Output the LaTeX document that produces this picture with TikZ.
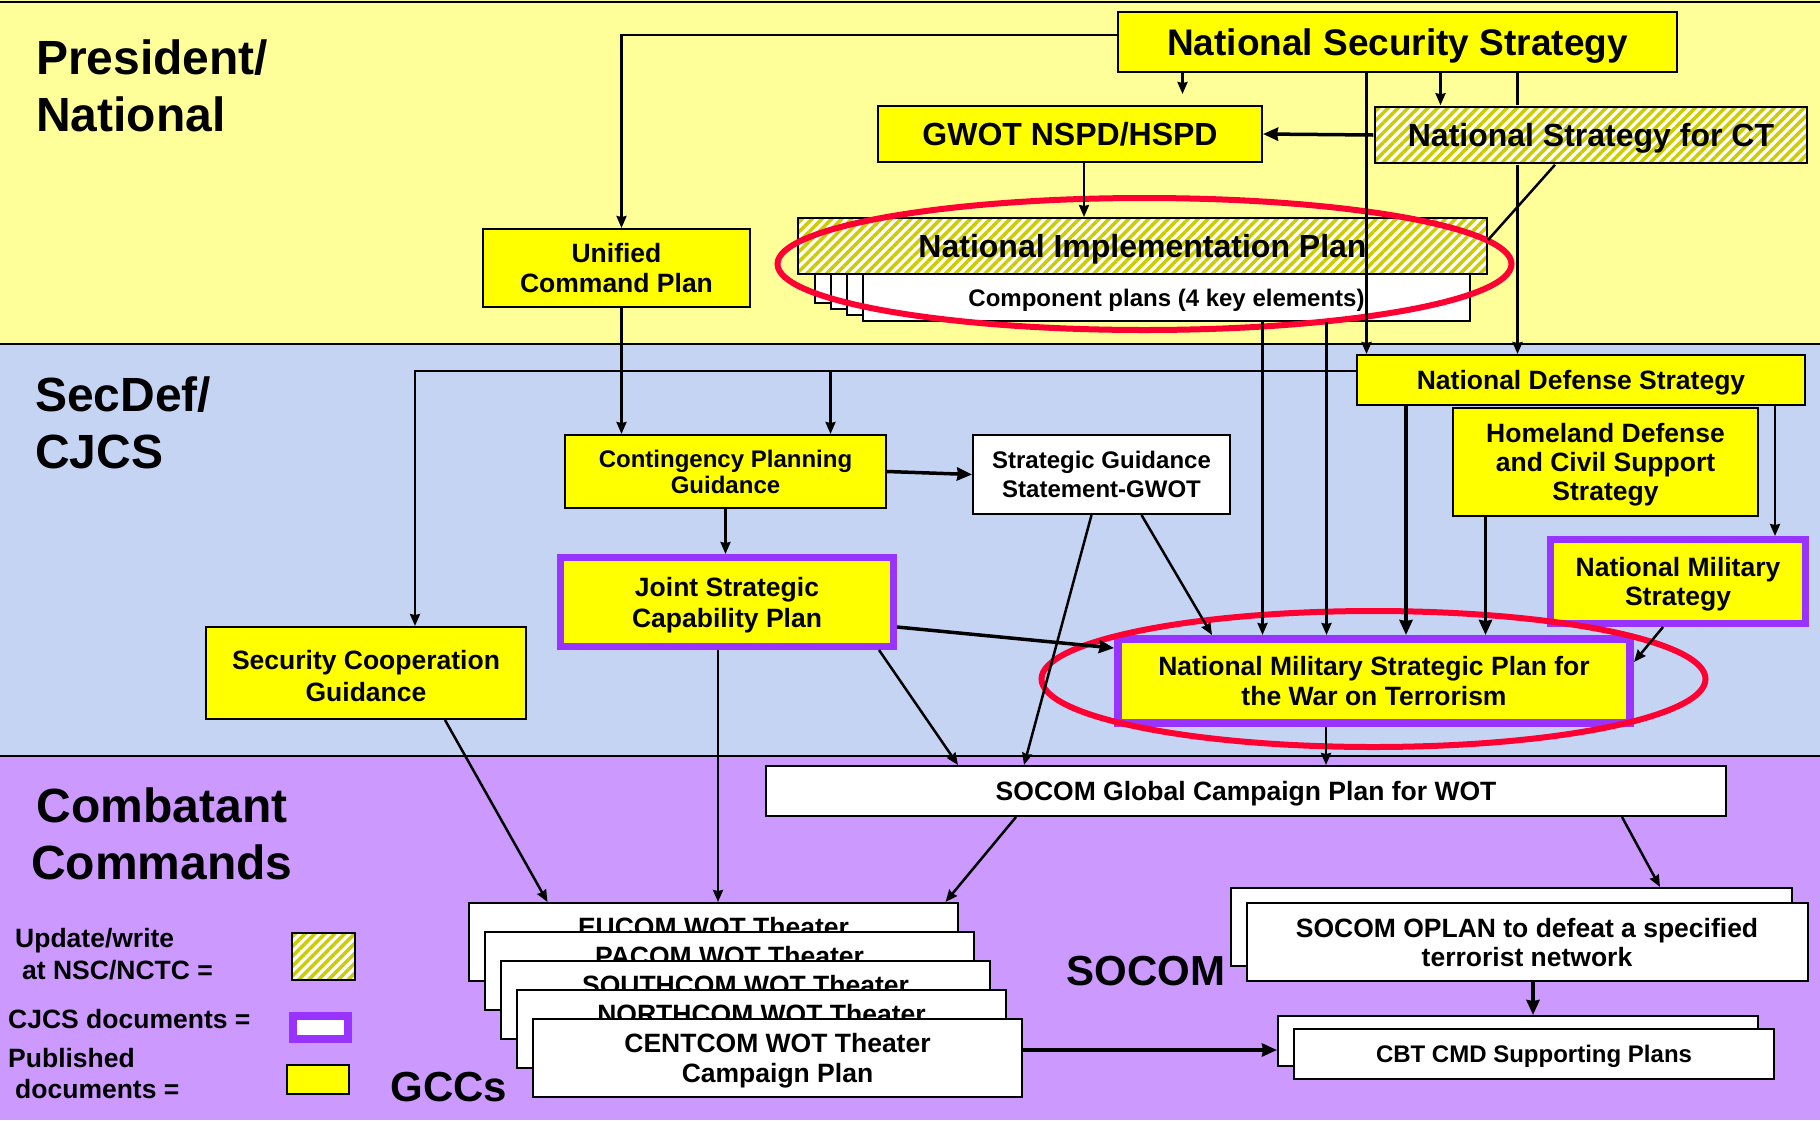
\documentclass[tikz,border=0pt]{standalone}
\usepackage{fontspec}
\setmainfont{Liberation Sans}
\usetikzlibrary{arrows.meta,patterns.meta}
\definecolor{bandyellow}{RGB}{255,255,153}
\definecolor{bandblue}{RGB}{198,212,244}
\definecolor{bandpurple}{RGB}{204,153,255}
\definecolor{docyellow}{RGB}{255,255,0}
\definecolor{cjcspurple}{RGB}{153,51,255}
\definecolor{ringred}{RGB}{255,0,51}
\definecolor{hatchcol}{RGB}{204,204,0}
\newcommand\bs{\rule{0pt}{0.94em}}
\newcommand\es{\rule[-0.22em]{0pt}{0.22em}}
\begin{document}
\begin{tikzpicture}[x=1pt, y=-1pt,
    link/.style = {line width=2.5pt},
    arrow/.style = {link,-{Stealth[length=12pt,width=10pt,inset=1pt]}},
    bigarrow/.style = {line width=3.5pt,-{Stealth[length=15pt,width=13pt,inset=1pt]}},
    doc/.style = {draw, line width=2pt, fill=docyellow, align=center, inner sep=0pt,
                  font=\bfseries\fontsize{26.5}{30}\selectfont},
    plain/.style = {doc, fill=white},
    hatch/.style = {doc, preaction={fill=white},
                    pattern={Lines[angle=45,distance=7pt,line width=3.5pt]}, pattern color=hatchcol},
    cjcs/.style = {doc, draw=cjcspurple, line width=7pt},
    band/.style = {font=\bfseries\fontsize{48}{57}\selectfont, inner sep=0pt},
    key/.style = {font=\bfseries\fontsize{26.5}{32}\selectfont, align=left, inner sep=0pt},
    ring/.style = {draw=ringred, line width=6pt}]

    \useasboundingbox (0,0) rectangle (1820,1120);
    \fill[bandyellow] (0,0) rectangle (1820,344);
    \fill[bandblue] (0,344) rectangle (1820,756);
    \fill[bandpurple] (0,756) rectangle (1820,1120);
    \draw[line width=2pt] (0,2) -- (1820,2);
    \draw[line width=1.5pt] (0,344) -- (1820,344);
    \draw[line width=1.5pt] (0,756) -- (1820,756);

    \node[band, align=left, anchor=west] (presband) at (36,86) {President/\\National};
    \node[band, align=left, anchor=west] (secdefband) at (35,423) {SecDef/\\CJCS};
    \node[band, align=center] (ccband) at (162,834) {Combatant\\Commands};

    % President / National
    \node[doc, minimum width=559pt, minimum height=60pt,
          font=\bfseries\fontsize{37}{42}\selectfont] (nss) at (1397.5,42) {\bs National Security Strategy\es};
    \node[doc, minimum width=384pt, minimum height=56pt,
          font=\bfseries\fontsize{32}{36}\selectfont] (gwot) at (1070,134) {\bs GWOT NSPD/HSPD\es};
    \node[hatch, minimum width=432pt, minimum height=56pt,
          font=\bfseries\fontsize{32}{36}\selectfont] (nsct) at (1591,135) {\bs National Strategy for CT\es};
    \node[plain, minimum width=607pt, minimum height=47pt] (comp3) at (1118.5,279.5) {};
    \node[plain, minimum width=607pt, minimum height=47pt] (comp2) at (1134.5,285.5) {};
    \node[plain, minimum width=607pt, minimum height=47pt] (comp1) at (1150.5,291.5) {};
    \node[plain, minimum width=607pt, minimum height=47pt,
          font=\bfseries\fontsize{24}{28}\selectfont] (comp) at (1166.5,297.5) {\bs Component plans (4 key elements)\es};
    \node[hatch, minimum width=689pt, minimum height=56pt,
          font=\bfseries\fontsize{32}{36}\selectfont] (nip) at (1142.5,246) {\bs National Implementation Plan\es};
    \node[doc, minimum width=267pt, minimum height=78pt] (ucp) at (616.5,268) {\bs Unified\\Command Plan\es};

    % SecDef / CJCS
    \node[doc, minimum width=448pt, minimum height=50pt] (nds) at (1581,380) {\bs National Defense Strategy\es};
    \node[doc, minimum width=305pt, minimum height=108pt,
          font=\bfseries\fontsize{26.5}{29}\selectfont] (hdcs) at (1605.5,462) {\bs Homeland Defense\\and Civil Support\\Strategy\es};
    \node[cjcs, minimum width=255pt, minimum height=84pt,
          font=\bfseries\fontsize{26.5}{29}\selectfont] (nms) at (1678,581.5) {\bs National Military\\Strategy\es};
    \node[doc, minimum width=321pt, minimum height=73pt,
          font=\bfseries\fontsize{24}{26}\selectfont] (cpg) at (725.5,471.5) {\bs Contingency Planning\\Guidance\es};
    \node[plain, minimum width=257pt, minimum height=79pt,
          font=\bfseries\fontsize{24}{29}\selectfont] (sgs) at (1101.5,474.5) {\bs Strategic Guidance\\Statement-GWOT\es};
    \node[cjcs, minimum width=333pt, minimum height=89pt,
          font=\bfseries\fontsize{26.5}{31}\selectfont] (jscp) at (727,602) {\bs Joint Strategic\\Capability Plan\es};
    \node[doc, minimum width=320pt, minimum height=92pt,
          font=\bfseries\fontsize{26.5}{32}\selectfont] (scg) at (366,673) {\rule{0pt}{1.2em}Security Cooperation\\Guidance\es};
    \node[cjcs, line width=8pt, minimum width=512pt, minimum height=84pt] (nmsp) at (1374,681)
          {\bs National Military Strategic Plan for\\the War on Terrorism\es};

    % Combatant Commands
    \node[plain, minimum width=960pt, minimum height=50pt] (gcp) at (1246,791) {\bs SOCOM Global Campaign Plan for WOT\es};
    \node[plain, minimum width=489pt, minimum height=78pt] (eucom) at (713.5,942) {\bs EUCOM WOT Theater\\Campaign Plan\es};
    \node[plain, minimum width=489pt, minimum height=78pt] (pacom) at (729.5,971) {\bs PACOM WOT Theater\\Campaign Plan\es};
    \node[plain, minimum width=489pt, minimum height=78pt] (southcom) at (745.5,1000) {\bs SOUTHCOM WOT Theater\\Campaign Plan\es};
    \node[plain, minimum width=489pt, minimum height=78pt] (northcom) at (761.5,1029) {\bs NORTHCOM WOT Theater\\Campaign Plan\es};
    \node[plain, minimum width=489pt, minimum height=78pt] (centcom) at (777.5,1058) {\bs CENTCOM WOT Theater\\Campaign Plan\es};
    \node[plain, minimum width=561pt, minimum height=78pt] (oplanb) at (1511,927) {};
    \node[plain, minimum width=561pt, minimum height=78pt,
          font=\bfseries\fontsize{26.5}{29}\selectfont] (oplan) at (1527,942) {\bs SOCOM OPLAN to defeat a specified\\terrorist network\es};
    \node[plain, minimum width=480pt, minimum height=50pt] (cbtb) at (1518,1041) {};
    \node[plain, minimum width=480pt, minimum height=50pt,
          font=\bfseries\fontsize{24}{28}\selectfont] (cbt) at (1534,1054) {\bs CBT CMD Supporting Plans\es};
    \node[font=\bfseries\fontsize{42}{48}\selectfont, inner sep=0pt] (socomlbl) at (1146,971) {SOCOM};
    \node[font=\bfseries\fontsize{42}{48}\selectfont, inner sep=0pt] (gccslbl) at (449,1087) {GCCs};

    % legend
    \node[key, anchor=west] (updkey) at (15,954.5) {Update/write\\\hspace*{7pt}at NSC/NCTC =};
    \node[key, anchor=west] (cjcskey) at (8,1019.5) {CJCS documents =};
    \node[key, font=\bfseries\fontsize{26.5}{31}\selectfont, anchor=west] (pubkey) at (8,1073.5)
          {Published\\\hspace*{7pt}documents =};
    \node[hatch, minimum width=63pt, minimum height=47pt] (updbox) at (323.5,956) {};
    \node[draw=cjcspurple, line width=8pt, fill=white, inner sep=0pt,
          minimum width=55pt, minimum height=23pt] (cjcsbox) at (320.5,1027.5) {};
    \node[doc, minimum width=62pt, minimum height=29pt] (pubbox) at (317.5,1079) {};

    \draw[ring] (1144.5,264) ellipse [x radius=367pt, y radius=66pt];
    \draw[ring] (1373.5,679) ellipse [x radius=332pt, y radius=68pt];

    \draw[arrow] ([yshift=7pt]nss.west) -| ([xshift=5pt]ucp.north);
    \draw[arrow, shorten >=11pt] ([xshift=-215pt]nss.south) -- ([xshift=-215pt]nss.south |- gwot.north);
    \draw[arrow] ([xshift=43pt]nss.south) -- ([xshift=43pt]nss.south |- nsct.north);
    \draw[arrow] ([xshift=-31pt]nss.south) -- ([xshift=-31pt]nss.south |- nds.north);
    \draw[link] ([xshift=120pt]nss.south) -- ([xshift=120pt]nss.south |- nsct.north);
    \draw[arrow] ([xshift=120pt]nss.south |- nsct.south) -- ([xshift=120pt]nss.south |- nds.north);
    \draw[bigarrow] (nsct.west) -- (gwot.east);
    \draw[arrow] ([xshift=14pt]gwot.south) -- ([xshift=14pt]gwot.south |- nip.north);
    \draw[link] ([xshift=-36pt]nsct.south) -- ([yshift=6pt]nip.east);

    \draw[arrow] ([xshift=96pt]comp.south) -- ([xshift=96pt]comp.south |- nmsp.north);
    \draw[arrow] ([xshift=160pt]comp.south) -- ([xshift=160pt]comp.south |- nmsp.north);
    \draw[bigarrow] ([xshift=-175pt]nds.south) -- ([xshift=-175pt]nds.south |- nmsp.north);
    \draw[bigarrow] ([xshift=-120pt]hdcs.south) -- ([xshift=-120pt]hdcs.south |- nmsp.north);
    \draw[arrow] ([xshift=194pt]nds.south) -- ([xshift=194pt]nds.south |- nms.north);
    \draw[arrow] ([xshift=-15pt]nms.south) -- ([yshift=19pt]nmsp.east);

    \coordinate (ndsline) at ([yshift=9pt]nds.west);
    \draw[arrow] (ndsline) -| ([xshift=49pt]scg.north);
    \draw[arrow] ([xshift=105pt]cpg.north |- ndsline) -- ([xshift=105pt]cpg.north);
    \draw[arrow] ([xshift=5pt]ucp.south) -- ([xshift=5pt]ucp.south |- cpg.north);
    \draw[bigarrow] (cpg.east) -- (sgs.west);
    \draw[arrow] (cpg.south) -- (cpg.south |- jscp.north);
    \draw[arrow] ([xshift=40pt]sgs.south) -- ([xshift=-162pt]nmsp.north);
    \draw[arrow] ([xshift=-10pt]sgs.south) -- ([xshift=-222pt]gcp.north);
    \draw[bigarrow] ([yshift=-25pt]jscp.east) -- ([yshift=33pt]nmsp.west);
    \draw[arrow] ([xshift=-48pt]nmsp.south) -- ([xshift=-48pt]nmsp.south |- gcp.north);

    \draw[arrow] ([xshift=-9pt]jscp.south) -- ([xshift=-9pt]jscp.south |- eucom.north);
    \draw[arrow] ([xshift=152pt]jscp.south) -- ([xshift=-288pt]gcp.north);
    \draw[arrow] ([xshift=79pt]scg.south) -- ([xshift=-166pt]eucom.north);
    \draw[arrow] ([xshift=-230pt]gcp.south) -- ([xshift=232pt]eucom.north);
    \draw[arrow] ([xshift=376pt]gcp.south) -- ([xshift=149pt]oplanb.north);
    \draw[bigarrow] ([xshift=6pt]oplan.south) -- ([xshift=6pt]oplan.south |- cbtb.north);
    \draw[bigarrow] ([yshift=8pt]centcom.east) -- ([yshift=8pt]centcom.east -| cbtb.west);
\end{tikzpicture}
\end{document}
